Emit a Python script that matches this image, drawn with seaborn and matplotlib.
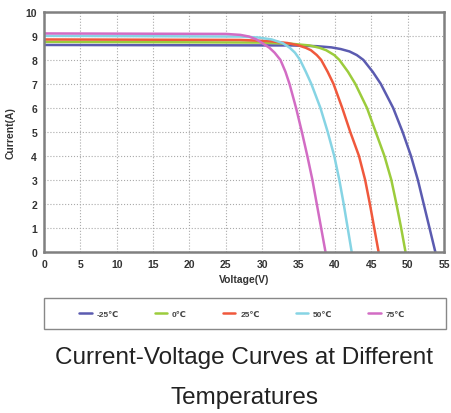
import pandas as pd
import seaborn as sns
import matplotlib.pyplot as plt
from matplotlib.patches import Rectangle

# I-V curve points
temps = ["-25℃", "0℃", "25℃", "50℃", "75℃"]

v_m25 = [0, 34, 37.5, 39.5, 40.8, 42.0, 43.0, 43.9, 45.2, 46.3, 48.0, 49.3, 50.45, 51.4, 52.2, 53.0, 53.8]
i_m25 = [8.62, 8.6, 8.57, 8.52, 8.45, 8.35, 8.2, 8.0, 7.5, 7.0, 6.0, 5.0, 4.0, 3.0, 2.0, 1.0, 0.0]

v_0 = [0, 30, 34, 36.5, 37.9, 38.8, 39.9, 40.6, 41.8, 42.8, 44.4, 45.6, 46.8, 47.75, 48.45, 49.1, 49.7]
i_0 = [8.75, 8.72, 8.67, 8.6, 8.5, 8.4, 8.2, 8.0, 7.5, 7.0, 6.0, 5.0, 4.0, 3.0, 2.0, 1.0, 0.0]

v_25 = [0, 27, 31, 33.5, 35.0, 36.0, 36.7, 37.5, 38.1, 39.0, 39.8, 41.0, 42.1, 43.3, 44.15, 44.8, 45.4, 46.0]
i_25 = [8.85, 8.83, 8.78, 8.7, 8.6, 8.5, 8.4, 8.2, 8.0, 7.5, 7.0, 6.0, 5.0, 4.0, 3.0, 2.0, 1.0, 0.0]

v_50 = [0, 27, 29.5, 31.3, 32.8, 33.8, 34.5, 35.2, 36.0, 36.75, 38.0, 39.0, 39.9, 40.6, 41.2, 41.75, 42.3]
i_50 = [9.0, 8.97, 8.93, 8.85, 8.7, 8.5, 8.3, 8.0, 7.5, 7.0, 6.0, 5.0, 4.0, 3.0, 2.0, 1.0, 0.0]

v_75 = [0, 25, 27, 28.2, 29.2, 30.0, 31.0, 31.7, 32.5, 33.2, 33.75, 34.65, 35.45, 36.2, 36.9, 37.5, 38.1, 38.7]
i_75 = [9.1, 9.08, 9.04, 8.97, 8.85, 8.7, 8.5, 8.3, 8.0, 7.5, 7.0, 6.0, 5.0, 4.0, 3.0, 2.0, 1.0, 0.0]

colors = ["#5b5bb0", "#9ccc3c", "#f0583c", "#86d4e4", "#d26cc4"]

frames = []
for t, v, i in zip(temps, [v_m25, v_0, v_25, v_50, v_75], [i_m25, i_0, i_25, i_50, i_75]):
    frames.append(pd.DataFrame({"Voltage": v, "Current": i, "Temp": t}))
df = pd.concat(frames, ignore_index=True)

sns.set_style("white")
plt.rcParams["font.family"] = ["Liberation Sans", "DejaVu Sans", "Noto Sans CJK SC"]

fig = plt.figure(figsize=(4.51, 4.14), dpi=100)
ax = fig.add_axes([0.0976, 0.389, 0.887, 0.58])

sns.lineplot(data=df, x="Voltage", y="Current", hue="Temp", hue_order=temps,
             palette=colors, sort=False, estimator=None, linewidth=1.8, ax=ax, legend=True)

ax.set_xlim(0, 55)
ax.set_ylim(0, 10)
ax.set_xticks(range(0, 56, 5))
ax.set_yticks(range(0, 11))
ax.tick_params(labelsize=7.5, colors="#333333", length=0, pad=5)
for lab in ax.get_xticklabels() + ax.get_yticklabels():
    lab.set_fontweight("bold")
ax.grid(True, linestyle=":", color="#aaaaaa", linewidth=0.8)
for s in ax.spines.values():
    s.set_color("#808080")
    s.set_linewidth(1.8)
ax.set_xlabel("Voltage(V)", fontsize=7.5, fontweight="bold", color="#333333", labelpad=4)
ax.set_ylabel("Current(A)", fontsize=7.5, fontweight="bold", color="#333333", labelpad=7)

handles, labels = ax.get_legend_handles_labels()
ax.get_legend().remove()
leg = fig.legend(handles, labels, ncol=5, loc="center",
                 bbox_to_anchor=(0.537, 0.24), bbox_transform=fig.transFigure,
                 fontsize=6, frameon=False, handlelength=1.5, handletextpad=0.6,
                 columnspacing=4.3)
for lab in leg.get_texts():
    lab.set_fontweight("bold")
    lab.set_color("#444444")

# legend box spanning the plot width
fig.patches.append(Rectangle((44 / 451, 1 - 330 / 414), 402 / 451, 31 / 414,
                             transform=fig.transFigure, fill=False,
                             edgecolor="#888888", linewidth=1.0))

fig.text(0.542, 0.135, "Current-Voltage Curves at Different", ha="center", va="center",
         fontsize=17.5, color="#222222")
fig.text(0.542, 0.039, "Temperatures", ha="center", va="center",
         fontsize=17.5, color="#222222")

fig.savefig("out.png", dpi=100)
